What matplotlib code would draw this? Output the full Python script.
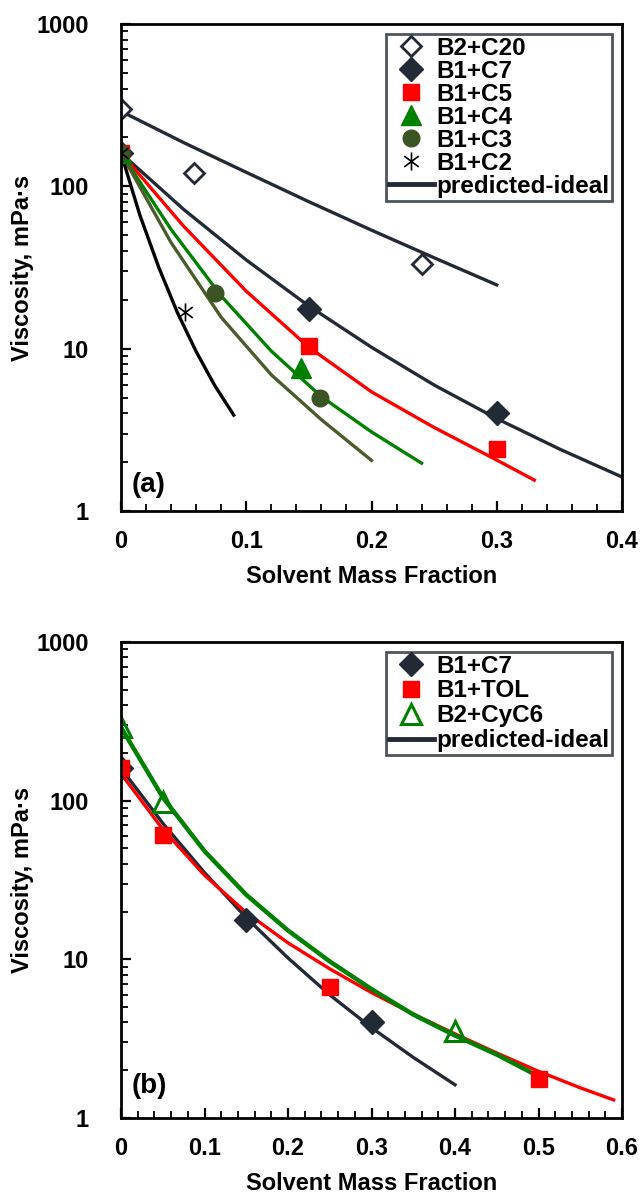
import matplotlib
matplotlib.use("Agg")
import matplotlib.pyplot as plt
from matplotlib.lines import Line2D
from matplotlib.path import Path
from matplotlib.ticker import MultipleLocator, LogLocator, NullFormatter

plt.rcParams['font.family'] = ['Liberation Sans', 'DejaVu Sans']
plt.rcParams['font.weight'] = 'bold'

NAVY = '#222a36'
RED = '#ff0000'
GREEN = '#008000'
OLIVE_PT = '#3b5424'
OLIVE_LN = '#4a5c2c'

# ---------------- panel (a) data ----------------
c20_x = [0, 0.058, 0.24]
c20_y = [300, 120, 33]
c7_x = [0, 0.15, 0.30]
c7_y = [160, 17.5, 4.0]
c5_x = [0, 0.15, 0.30]
c5_y = [160, 10.4, 2.4]
c4_x = [0, 0.144]
c4_y = [160, 7.6]
c3_x = [0, 0.075, 0.159]
c3_y = [160, 22.1, 5.0]
c2_x = [0, 0.051]
c2_y = [160, 16.8]

# predicted-ideal curves
c20_fit_x = [0, 0.05, 0.1, 0.15, 0.2, 0.25, 0.3]
c20_fit_y = [290, 186, 122, 80.4, 53.7, 36.3, 24.7]
c7_fit_x = [0, 0.05, 0.1, 0.15, 0.2, 0.25, 0.3, 0.35, 0.4]
c7_fit_y = [160, 72.1, 35.2, 18.3, 10.2, 5.97, 3.71, 2.41, 1.62]
c5_fit_x = [0, 0.05, 0.1, 0.15, 0.2, 0.25, 0.3, 0.33]
c5_fit_y = [160, 56.8, 22.6, 10.2, 5.42, 3.27, 2.06, 1.55]
c4_fit_x = [0, 0.04, 0.08, 0.12, 0.16, 0.2, 0.24]
c4_fit_y = [160, 54.2, 21.1, 9.66, 5.06, 3.07, 1.97]
c3_fit_x = [0, 0.04, 0.08, 0.12, 0.16, 0.2]
c3_fit_y = [160, 45, 15.6, 6.9, 3.65, 2.05]
c2_fit_x = [0, 0.015, 0.03, 0.045, 0.06, 0.075, 0.09]
c2_fit_y = [160, 66.7, 31.9, 16.7, 9.6, 5.9, 3.9]

# ---------------- panel (b) data ----------------
b_c7_x = [0, 0.15, 0.30]
b_c7_y = [160, 17.7, 4.0]
tol_x = [0, 0.05, 0.25, 0.50]
tol_y = [160, 61, 6.7, 1.76]
cyc6_x = [0, 0.05, 0.40]
cyc6_y = [290, 98, 3.55]

tol_fit_x = [0, 0.05, 0.1, 0.15, 0.2, 0.25, 0.3, 0.35, 0.4, 0.45, 0.5, 0.55, 0.59]
tol_fit_y = [148, 66.1, 33.9, 19.7, 12.7, 8.71, 6.17, 4.52, 3.39, 2.57, 1.97, 1.55, 1.30]
cyc6_fit_x = [0, 0.05, 0.1, 0.15, 0.2, 0.25, 0.3, 0.35, 0.4, 0.45, 0.49]
cyc6_fit_y = [290, 105, 48.1, 25.5, 15.2, 9.7, 6.49, 4.49, 3.31, 2.51, 1.95]

# asterisk marker (vertical bar + X)
star = Path([(0, -1), (0, 1), (-0.8, -0.6), (0.8, 0.6), (-0.8, 0.6), (0.8, -0.6)],
            [Path.MOVETO, Path.LINETO, Path.MOVETO, Path.LINETO, Path.MOVETO, Path.LINETO])

fig = plt.figure(figsize=(6.4, 11.96), dpi=100)
ax1 = fig.add_axes([121 / 640, 1 - 511 / 1196, 501 / 640, 487 / 1196])
ax2 = fig.add_axes([121 / 640, 1 - 1118 / 1196, 501 / 640, 476 / 1196])

lw = 2.4
# panel (a) lines
ax1.plot(c20_fit_x, c20_fit_y, color=NAVY, lw=lw)
ax1.plot(c7_fit_x, c7_fit_y, color=NAVY, lw=lw)
ax1.plot(c5_fit_x, c5_fit_y, color=RED, lw=lw)
ax1.plot(c4_fit_x, c4_fit_y, color=GREEN, lw=lw)
ax1.plot(c3_fit_x, c3_fit_y, color=OLIVE_LN, lw=lw)
ax1.plot(c2_fit_x, c2_fit_y, color='black', lw=lw)

# panel (a) points
ax1.plot(c20_x, c20_y, 'D', ms=10, mfc='white', mec=NAVY, mew=2, ls='none', label='B2+C20')
ax1.plot(c7_x, c7_y, 'D', ms=12.5, color=NAVY, ls='none', label='B1+C7')
ax1.plot(c5_x, c5_y, 's', ms=12, color=RED, ls='none', label='B1+C5')
ax1.plot(c4_x, c4_y, '^', ms=15, color=GREEN, ls='none', label='B1+C4')
ax1.plot(c3_x, c3_y, 'o', ms=12, color=OLIVE_PT, ls='none', label='B1+C3')
ax1.plot(c2_x, c2_y, marker=star, ms=13, mfc='none', mec='black', mew=1.2, ls='none', label='B1+C2')
h_a, l_a = ax1.get_legend_handles_labels()
h_a.append(Line2D([], [], color=NAVY, lw=3.5))
l_a.append('predicted-ideal')

# panel (b) lines
ax2.plot(c7_fit_x, c7_fit_y, color=NAVY, lw=lw)
ax2.plot(tol_fit_x, tol_fit_y, color=RED, lw=lw)
ax2.plot(cyc6_fit_x, cyc6_fit_y, color=GREEN, lw=3.2)

# panel (b) points
ax2.plot(b_c7_x, b_c7_y, 'D', ms=12.5, color=NAVY, ls='none', label='B1+C7')
ax2.plot(tol_x, tol_y, 's', ms=12, color=RED, ls='none', label='B1+TOL')
ax2.plot(cyc6_x, cyc6_y, '^', ms=15, mfc='none', mec=GREEN, mew=2.2, ls='none', label='B2+CyC6')
h_b, l_b = ax2.get_legend_handles_labels()
h_b.append(Line2D([], [], color=NAVY, lw=3.5))
l_b.append('predicted-ideal')

panels = [(ax1, 0.4, '(a)', h_a, l_a, 0.0, 0.038),
          (ax2, 0.6, '(b)', h_b, l_b, 0.08, 0.052)]
for ax, xmax, tag, handles, labels, spacing, tag_y in panels:
    ax.set_yscale('log')
    ax.set_ylim(1, 1000)
    ax.set_xlim(0, xmax)
    ax.set_yticks([1, 10, 100, 1000])
    ax.set_yticklabels(['1', '10', '100', '1000'])
    ax.yaxis.set_minor_locator(LogLocator(base=10, subs=range(2, 10)))
    ax.yaxis.set_minor_formatter(NullFormatter())
    n = int(round(xmax * 10))
    xt = [i / 10 for i in range(n + 1)]
    ax.set_xticks(xt)
    ax.set_xticklabels(['0'] + ['%.1f' % v for v in xt[1:]])
    ax.xaxis.set_minor_locator(MultipleLocator(0.02))
    ax.tick_params(which='major', direction='in', length=7, width=1.6, labelsize=17)
    ax.tick_params(which='minor', direction='in', length=5, width=1.3)
    ax.tick_params(axis='x', which='major', pad=14)
    ax.tick_params(axis='y', which='major', pad=23)
    for sp in ax.spines.values():
        sp.set_linewidth(2)
        sp.set_color('black')
    ax.set_xlabel('Solvent Mass Fraction', fontsize=17, fontweight='bold', labelpad=8)
    ax.set_ylabel('Viscosity, mPa·s', fontsize=17, fontweight='bold', labelpad=2)
    ax.text(0.022, tag_y, tag, transform=ax.transAxes, fontsize=20, fontweight='bold',
            va='baseline')
    leg = ax.legend(handles, labels, loc='upper right', bbox_to_anchor=(0.99, 0.99),
                    fontsize=17.5, frameon=True, fancybox=False, borderpad=0.12,
                    labelspacing=spacing, handlelength=1.85, handletextpad=0.1,
                    borderaxespad=0.2)
    leg.get_frame().set_edgecolor(NAVY)
    leg.get_frame().set_linewidth(2)
    for t in leg.get_texts():
        t.set_fontweight('bold')

fig.savefig('out.png', dpi=100)
